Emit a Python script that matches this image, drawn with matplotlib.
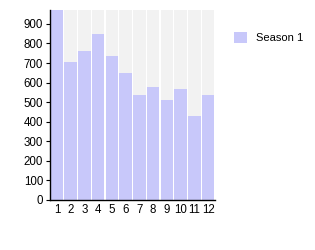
import matplotlib
matplotlib.use("Agg")
import matplotlib.pyplot as plt
from matplotlib.patches import Patch

categories = [str(i) for i in range(1, 13)]
values = [975, 705, 763, 850, 738, 651, 538, 578, 513, 569, 431, 537]
yticks = [0, 100, 200, 300, 400, 500, 600, 700, 800, 900]
series_name = "Season 1"

plt.rcParams['font.family'] = ['Liberation Sans', 'DejaVu Sans']
fig = plt.figure(figsize=(3.15, 2.5), dpi=100)
ax = fig.add_axes([50/315, 50/250, 165/315, 190/250])
ymax = 971
x = list(range(len(categories)))
ax.bar(x, [ymax]*len(x), width=0.91, color='#f2f2f2', zorder=1)
ax.bar(x, values, width=0.91, color='#c8c8fa', zorder=2)
ax.set_xlim(-0.5, len(x) - 0.5)
ax.set_ylim(0, ymax)
ax.set_xticks(x)
ax.set_xticklabels(categories)
ax.set_yticks(yticks)
ax.tick_params(axis='x', length=0, labelsize=8.3, pad=3)
ax.tick_params(axis='y', length=3, width=0.8, labelsize=8.3, pad=2)
for s in ['top', 'right']:
    ax.spines[s].set_visible(False)
for s in ['left', 'bottom']:
    ax.spines[s].set_linewidth(1.0)
    ax.spines[s].set_zorder(3)

handle = Patch(facecolor='#c8c8fa', edgecolor='none')
fig.legend([handle], [series_name], loc='upper left', bbox_to_anchor=(224/315, 1 - 22/250),
           frameon=False, fontsize=8, handlelength=1.15, handleheight=1.15, handletextpad=0.8)
fig.savefig("out.png", dpi=100)
